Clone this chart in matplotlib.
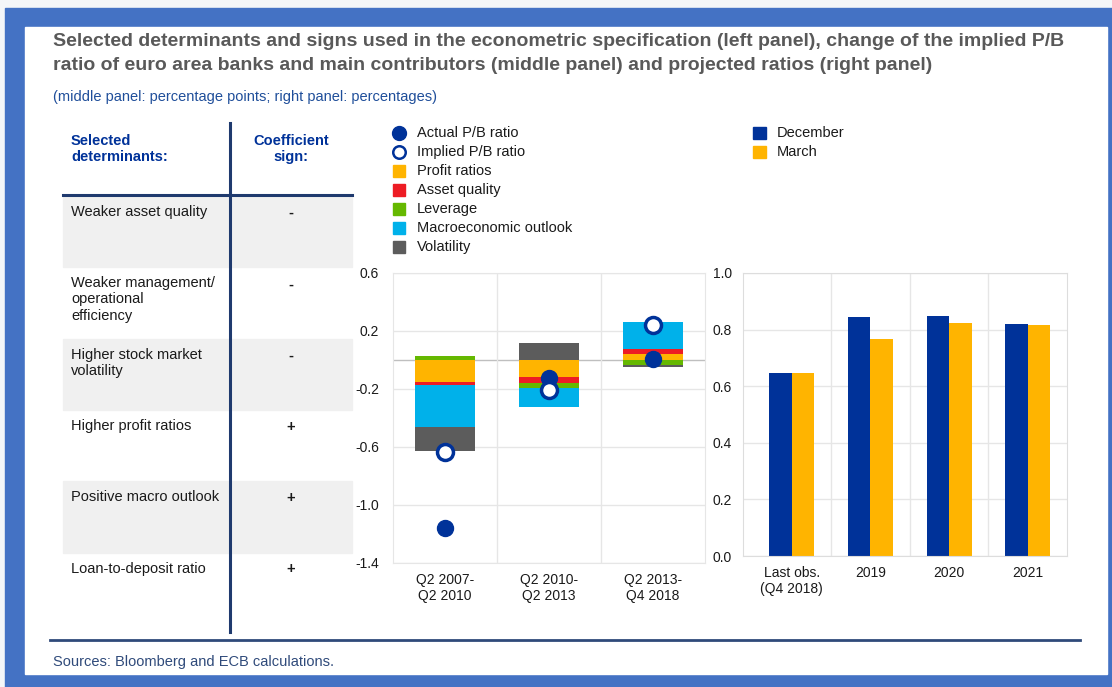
import matplotlib.pyplot as plt
from matplotlib.patches import Rectangle
from matplotlib.lines import Line2D
from matplotlib.transforms import Affine2D
import numpy as np

plt.rcParams['font.family'] = ['Liberation Sans', 'DejaVu Sans']

# --- data -------------------------------------------------------------
# left panel (table)
determinants = ["Weaker asset quality",
                "Weaker management/\noperational\nefficiency",
                "Higher stock market\nvolatility",
                "Higher profit ratios",
                "Positive macro outlook",
                "Loan-to-deposit ratio"]
signs = ["-", "-", "-", "+", "+", "+"]

# middle panel: change of implied P/B ratio and contributors (pp)
periods = ["Q2 2007-\nQ2 2010", "Q2 2010-\nQ2 2013", "Q2 2013-\nQ4 2018"]
profit = [-0.15, -0.12, 0.04]
asset_quality = [-0.02, -0.04, 0.035]
leverage = [0.025, -0.035, -0.035]
macro = [-0.29, -0.13, 0.184]
volatility = [-0.165, 0.115, -0.015]
actual_pb = [-1.16, -0.127, 0.01]
implied_pb = [-0.635, -0.208, 0.242]

# right panel: projected ratios (%)
horizons = ["Last obs.\n(Q4 2018)", "2019", "2020", "2021"]
december = [0.646, 0.844, 0.847, 0.820]
march = [0.646, 0.766, 0.824, 0.815]

# --- colours ----------------------------------------------------------
ecb_blue = "#003299"
yellow = "#FFB400"
red = "#ED1C24"
green = "#65B800"
light_blue = "#00B1EA"
grey = "#5C5C5C"
navy_line = "#1F3A6E"

W, H = 1112, 687
fig = plt.figure(figsize=(W / 100, H / 100), dpi=100)
fig.patch.set_facecolor("#F4F6F8")
px = Affine2D().scale(1 / W, -1 / H).translate(0, 1) + fig.transFigure

# frame of the slide
fig.add_artist(Rectangle((5, 8), W - 5, H - 8, transform=px, color="#4472C4", zorder=0))
fig.add_artist(Rectangle((25, 27), 1082, 647, transform=px, color="white", zorder=0))

# title
fig.text(53, 41, "Selected determinants and signs used in the econometric specification (left panel), change of the implied P/B",
         transform=px, fontsize=14, fontweight="bold", color="#595959", va="center")
fig.text(53, 65, "ratio of euro area banks and main contributors (middle panel) and projected ratios (right panel)",
         transform=px, fontsize=14, fontweight="bold", color="#595959", va="center")
fig.text(53, 97, "(middle panel: percentage points; right panel: percentages)",
         transform=px, fontsize=10.5, color="#1F4E9A", va="center")

# --- left panel: table ----------------------------------------------
row_top = 196
row_h = 71.3
for i, (d, s) in enumerate(zip(determinants, signs)):
    y0 = row_top + i * row_h
    if i % 2 == 0:
        fig.add_artist(Rectangle((63, y0), 289, row_h, transform=px, color="#F0F0F0", zorder=1))
    fig.text(71, y0 + 9, d, transform=px, fontsize=10.5, color="#1A1A1A", va="top",
             linespacing=1.2, zorder=3)
    fig.text(291, y0 + 17, s, transform=px, fontsize=10.5, fontweight="bold", color="#1A1A1A",
             va="center", ha="center", zorder=3)

fig.text(71, 149, "Selected\ndeterminants:", transform=px, fontsize=10.5, fontweight="bold",
         color=ecb_blue, va="center", linespacing=1.2)
fig.text(291, 149, "Coefficient\nsign:", transform=px, fontsize=10.5, fontweight="bold",
         color=ecb_blue, va="center", ha="center", linespacing=1.2)
fig.add_artist(Line2D([230, 230], [123, 632], transform=px, color=navy_line, lw=2.2, zorder=4))
fig.add_artist(Line2D([63, 352], [195, 195], transform=px, color=navy_line, lw=2.2, zorder=4))

# bottom rule and source
fig.add_artist(Line2D([50, 1080], [640, 640], transform=px, color="#2F4A7A", lw=2, zorder=4))
fig.text(53, 662, "Sources: Bloomberg and ECB calculations.", transform=px, fontsize=10.5,
         color="#2F4A7A", va="center")

# --- middle panel ----------------------------------------------------
ax1 = fig.add_axes([393 / W, 1 - 563 / H, (705 - 393) / W, (563 - 273) / H])
x = np.arange(len(periods))
bw = 0.57
components = [(profit, yellow), (asset_quality, red), (leverage, green),
              (macro, light_blue), (volatility, grey)]
pos = np.zeros(len(periods))
neg = np.zeros(len(periods))
for vals, col in components:
    vals = np.array(vals)
    bottoms = np.where(vals >= 0, pos, neg)
    ax1.bar(x, vals, bw, bottom=bottoms, color=col, zorder=2)
    pos += np.clip(vals, 0, None)
    neg += np.clip(vals, None, 0)
ax1.plot(x, actual_pb, "o", ms=11.5, color=ecb_blue, zorder=4, ls="none")
ax1.plot(x, implied_pb, "o", ms=11.5, mfc="white", mec=ecb_blue, mew=2.5, zorder=5, ls="none")
ax1.axhline(0, color="#BFBFBF", lw=1, zorder=1)
ax1.set_xlim(-0.5, 2.5)
ax1.set_ylim(-1.4, 0.6)
ax1.set_yticks([0.6, 0.2, -0.2, -0.6, -1.0, -1.4])
ax1.set_yticklabels(["0.6", "0.2", "-0.2", "-0.6", "-1.0", "-1.4"])
ax1.set_xticks(x)
ax1.set_xticklabels(periods)
ax1.set_xticks([0.5, 1.5], minor=True)
ax1.grid(True, axis="y", color="#E6E6E6", lw=1, zorder=0)
ax1.grid(True, axis="x", which="minor", color="#E6E6E6", lw=1, zorder=0)
ax1.tick_params(which="both", length=0, labelsize=10, colors="#1A1A1A")
ax1.tick_params(axis="y", pad=10)
ax1.tick_params(axis="x", pad=7)
for sp in ax1.spines.values():
    sp.set_color("#E6E6E6")

# --- right panel -----------------------------------------------------
ax2 = fig.add_axes([743 / W, 1 - 556 / H, (1067 - 743) / W, (556 - 273) / H])
xr = np.arange(len(horizons))
bw2 = 0.286
ax2.bar(xr - bw2 / 2, december, bw2, color=ecb_blue, zorder=2)
ax2.bar(xr + bw2 / 2, march, bw2, color=yellow, zorder=2)
ax2.set_xlim(-0.62, 3.5)
ax2.set_ylim(0, 1.0)
ax2.set_yticks([0.0, 0.2, 0.4, 0.6, 0.8, 1.0])
ax2.set_yticklabels(["0.0", "0.2", "0.4", "0.6", "0.8", "1.0"])
ax2.set_xticks(xr)
ax2.set_xticklabels(horizons)
ax2.set_xticks([0.5, 1.5, 2.5], minor=True)
ax2.grid(True, axis="y", color="#E6E6E6", lw=1, zorder=0)
ax2.grid(True, axis="x", which="minor", color="#E6E6E6", lw=1, zorder=0)
ax2.tick_params(which="both", length=0, labelsize=10, colors="#1A1A1A")
ax2.tick_params(axis="y", pad=8)
ax2.tick_params(axis="x", pad=7)
for sp in ax2.spines.values():
    sp.set_color("#DDDDDD")

# --- legends (drawn by hand to match placement) ----------------------
mid_items = [("circle", ecb_blue, "Actual P/B ratio"),
             ("open", ecb_blue, "Implied P/B ratio"),
             ("sq", yellow, "Profit ratios"),
             ("sq", red, "Asset quality"),
             ("sq", green, "Leverage"),
             ("sq", light_blue, "Macroeconomic outlook"),
             ("sq", grey, "Volatility")]
for i, (kind, col, lab) in enumerate(mid_items):
    yy = 133 + i * 19
    if kind == "sq":
        fig.add_artist(Rectangle((393, yy - 6), 12, 12, transform=px, color=col))
    elif kind == "circle":
        fig.add_artist(Line2D([399], [yy], transform=px, marker="o", ms=10, color=col, ls="none"))
    else:
        fig.add_artist(Line2D([399], [yy], transform=px, marker="o", ms=9, mfc="white",
                              mec=col, mew=1.8, ls="none"))
    fig.text(417, yy, lab, transform=px, fontsize=10.5, color="#1A1A1A", va="center")

for i, (col, lab) in enumerate([(ecb_blue, "December"), (yellow, "March")]):
    yy = 133 + i * 19
    fig.add_artist(Rectangle((753, yy - 6), 13, 12, transform=px, color=col))
    fig.text(777, yy, lab, transform=px, fontsize=10.5, color="#1A1A1A", va="center")

fig.savefig("out.png", dpi=100)
